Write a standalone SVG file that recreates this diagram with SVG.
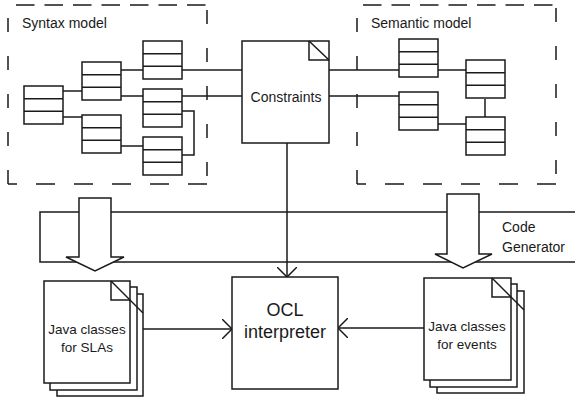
<svg xmlns="http://www.w3.org/2000/svg" xmlns:xlink="http://www.w3.org/1999/xlink" width="575" height="398" viewBox="0 0 575 398">
<style>
  .bx{fill:#fff;stroke:#1a1a1a;stroke-width:1.5}
  .ln{fill:none;stroke:#1a1a1a;stroke-width:1.5}
  .dh{fill:none;stroke:#1a1a1a;stroke-width:1.5;stroke-dasharray:18.5 10}
  .dv{fill:none;stroke:#1a1a1a;stroke-width:1.5;stroke-dasharray:14 24}
  .db{fill:none;stroke:#1a1a1a;stroke-width:1.5;stroke-dasharray:19 19}
  .t{font-family:"Liberation Sans",Arial,sans-serif;font-size:14px;fill:#1a1a1a}
  .tc{font-family:"Liberation Sans",Arial,sans-serif;font-size:13.5px;fill:#1a1a1a;text-anchor:middle}
  .tb{font-family:"Liberation Sans",Arial,sans-serif;font-size:18px;fill:#1a1a1a;text-anchor:middle}
</style>
<defs>
  <g id="cls">
    <rect class="bx" x="0" y="0" width="39" height="38"/>
    <line class="ln" x1="0" y1="12.7" x2="39" y2="12.7"/>
    <line class="ln" x1="0" y1="25.3" x2="39" y2="25.3"/>
  </g>
  <marker id="arr" viewBox="0 0 10 20" refX="10" refY="10" markerWidth="10" markerHeight="20" markerUnits="userSpaceOnUse" orient="auto">
    <path d="M0,0 L10,10 L0,20" fill="none" stroke="#1a1a1a" stroke-width="1.5"/>
  </marker>
</defs>

<!-- Syntax model container -->
<g id="syntax-model">
  <line class="dh" x1="16" y1="5" x2="207" y2="5"/>
  <line class="dv" x1="8" y1="184" x2="8" y2="5"/>
  <line class="db" x1="207" y1="184" x2="8" y2="184"/>
  <line class="dv" x1="207" y1="10" x2="207" y2="184"/>
  <text class="t" x="22" y="28">Syntax model</text>
</g>

<!-- Semantic model container -->
<g id="semantic-model">
  <line class="dh" x1="363" y1="5" x2="556" y2="5"/>
  <line class="dv" x1="357" y1="184" x2="357" y2="5"/>
  <line class="db" x1="556" y1="184" x2="357" y2="184"/>
  <line class="dv" x1="556" y1="8" x2="556" y2="184"/>
  <text class="t" x="371" y="28">Semantic model</text>
</g>

<!-- Code generator band -->
<g id="code-generator">
  <polyline class="ln" points="575,212 40,212 40,262 575,262"/>
  <text class="t" x="502" y="232">Code</text>
  <text class="t" x="502" y="252">Generator</text>
  <polygon class="bx" points="79,198 111,198 111,257 124,257 95,271 66,257 79,257"/>
  <polygon class="bx" points="447,194 479,194 479,254 492,254 463,268 435,254 447,254"/>
</g>

<!-- Connectors -->
<g id="connectors">
  <line class="ln" x1="63" y1="91" x2="82" y2="91"/>
  <line class="ln" x1="63" y1="117" x2="82" y2="117"/>
  <line class="ln" x1="121" y1="70" x2="143" y2="70"/>
  <line class="ln" x1="182" y1="70" x2="242" y2="70"/>
  <line class="ln" x1="121" y1="96" x2="143" y2="96"/>
  <line class="ln" x1="182" y1="96" x2="242" y2="96"/>
  <polyline class="ln" points="182,111 194,111 194,155 182,155"/>
  <line class="ln" x1="121" y1="146" x2="143" y2="146"/>
  <line class="ln" x1="329" y1="70" x2="399" y2="70"/>
  <line class="ln" x1="438" y1="70" x2="466" y2="70"/>
  <line class="ln" x1="329" y1="96" x2="399" y2="96"/>
  <line class="ln" x1="438" y1="124" x2="466" y2="124"/>
  <line class="ln" x1="485" y1="99" x2="485" y2="117"/>
  <line class="ln" x1="287" y1="143" x2="287" y2="277" marker-end="url(#arr)"/>
  <line class="ln" x1="143" y1="329" x2="232" y2="329" marker-end="url(#arr)"/>
  <line class="ln" x1="424" y1="328" x2="338" y2="328" marker-end="url(#arr)"/>
</g>

<!-- Syntax classes -->
<g id="sA"><use xlink:href="#cls" x="24" y="86"/></g>
<g id="sB"><use xlink:href="#cls" x="82" y="62"/></g>
<g id="sC"><use xlink:href="#cls" x="143" y="41"/></g>
<g id="sD"><use xlink:href="#cls" x="82" y="115"/></g>
<g id="sE"><use xlink:href="#cls" x="143" y="89"/></g>
<g id="sF"><use xlink:href="#cls" x="143" y="137"/></g>

<!-- Semantic classes -->
<g id="mG"><use xlink:href="#cls" x="399" y="39"/></g>
<g id="mH"><use xlink:href="#cls" x="466" y="60"/></g>
<g id="mI"><use xlink:href="#cls" x="399" y="92"/></g>
<g id="mJ"><use xlink:href="#cls" x="466" y="117"/></g>

<!-- Constraints -->
<g id="constraints">
  <rect class="bx" x="242" y="41" width="87" height="102"/>
  <polyline class="ln" points="309,41 309,60 329,60"/>
  <line class="ln" x1="309" y1="41" x2="329" y2="60"/>
  <text class="tc" x="286" y="102" style="font-size:14px">Constraints</text>
</g>

<!-- Java classes for SLAs -->
<g id="java-slas">
  <rect class="bx" x="57" y="294" width="86" height="102"/>
  <rect class="bx" x="50" y="287" width="87" height="103"/>
  <rect class="bx" x="44" y="281" width="86" height="102"/>
  <polyline class="ln" points="111,281 111,300 130,300"/>
  <line class="ln" x1="111" y1="281" x2="143" y2="313"/>
  <text class="tc" x="87" y="334">Java classes</text>
  <text class="tc" x="87" y="352">for SLAs</text>
</g>

<!-- OCL interpreter -->
<g id="ocl">
  <rect class="bx" x="232" y="277" width="106" height="112"/>
  <text class="tb" x="285" y="316">OCL</text>
  <text class="tb" x="285" y="338">interpreter</text>
</g>

<!-- Java classes for events -->
<g id="java-events">
  <rect class="bx" x="437" y="291" width="87" height="102"/>
  <rect class="bx" x="430" y="284" width="87" height="103"/>
  <rect class="bx" x="424" y="278" width="87" height="102"/>
  <polyline class="ln" points="492,278 492,297 511,297"/>
  <line class="ln" x1="492" y1="278" x2="524" y2="310"/>
  <text class="tc" x="467" y="331">Java classes</text>
  <text class="tc" x="467" y="349">for events</text>
</g>
</svg>
